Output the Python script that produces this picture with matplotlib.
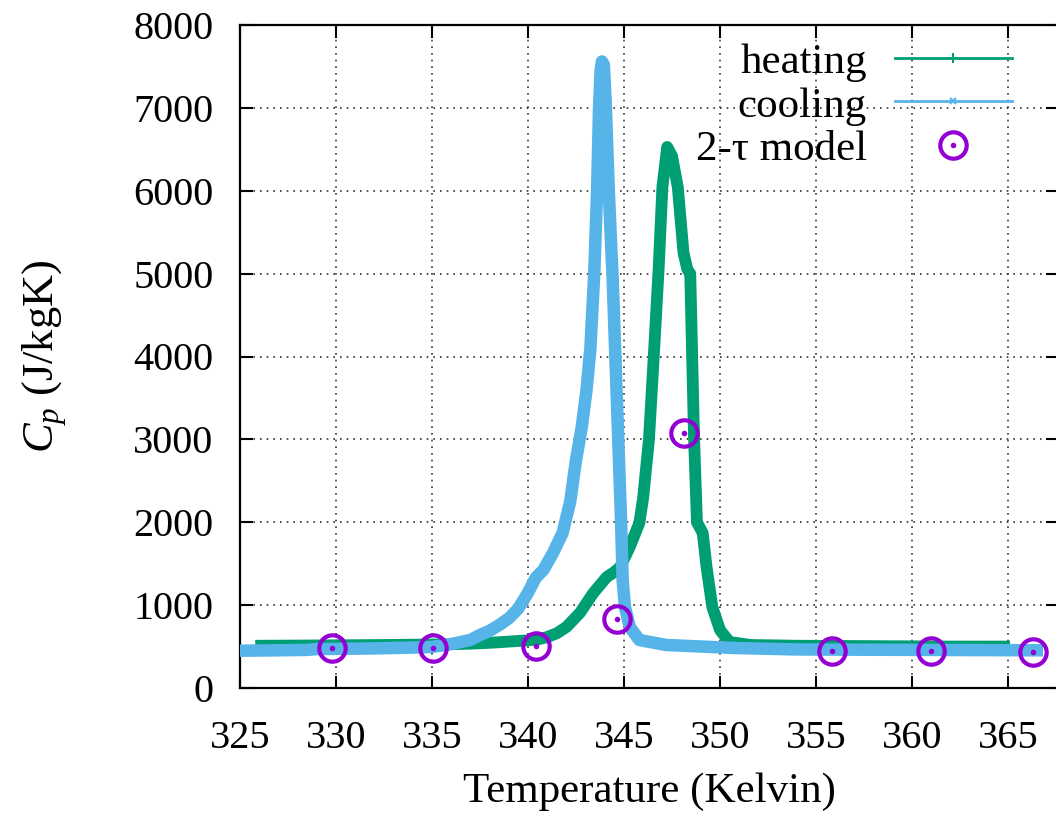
import matplotlib
matplotlib.use("Agg")
import matplotlib.pyplot as plt
from matplotlib.lines import Line2D
from matplotlib.legend_handler import HandlerTuple

# ---- data ----
T_heat = [326.1, 328, 330, 332, 334, 336, 337, 338, 339, 340, 340.5, 341, 341.5,
          342, 342.7, 343.4, 344.1, 344.5, 344.8, 345.3, 345.8, 346.0, 346.3, 346.55,
          346.8, 347.0, 347.25, 347.5, 347.8, 348.1, 348.3, 348.45, 348.55,
          348.65, 348.8, 349.1, 349.3, 349.6, 350.0, 350.5, 351.6, 354, 358,
          362, 364.8]
Cp_heat = [510, 512, 515, 518, 522, 528, 535, 545, 560, 575, 585, 615, 660,
           736, 905, 1146, 1339, 1400, 1460, 1701, 1991, 2300, 3000, 4000,
           5040, 6045, 6528, 6420, 6045, 5250, 5050, 5000, 4000,
           3000, 2000, 1870, 1460, 977, 700, 555, 519, 510, 505,
           500, 500]

T_cool = [325, 327, 328.5, 329, 330, 332, 334, 335, 336, 337, 337.5, 338,
          338.5, 339.0, 339.5, 340.0, 340.4, 340.8, 341.3, 341.8, 342.2, 342.5,
          342.8, 343.05, 343.25, 343.45, 343.6, 343.7, 343.78, 343.85, 343.95,
          344.05, 344.2, 344.3, 344.4, 344.55, 344.7, 344.85, 344.93, 345.05,
          345.3, 345.8, 347.2, 350.7, 354, 360, 366.5]
Cp_cool = [450, 455, 460, 470, 472, 478, 488, 495, 530, 580, 640, 690,
           760, 840, 960, 1150, 1330, 1424, 1629, 1870, 2250, 2750,
           3150, 3600, 4100, 5000, 6000, 7000, 7450, 7560, 7520,
           7050, 6050, 5500, 5000, 4000, 3000, 2000, 1300, 977,
           736, 579, 519, 483, 465, 460, 455]

T_model = [329.8, 335.07, 340.4, 344.65, 348.1, 355.83, 361.0, 366.3]
Cp_model = [479, 483, 507, 832, 3081, 450, 450, 438]

x_ticks = [325, 330, 335, 340, 345, 350, 355, 360, 365]
y_ticks = [0, 1000, 2000, 3000, 4000, 5000, 6000, 7000, 8000]

labels = ["heating", "cooling", "2-\u03c4 model"]

GREEN = "#009E73"
BLUE = "#56B4E9"
PURPLE = "#9400D3"

plt.rcParams["font.family"] = ["Liberation Serif", "DejaVu Serif"]
plt.rcParams["mathtext.fontset"] = "custom"
plt.rcParams["mathtext.rm"] = "Liberation Serif"
plt.rcParams["mathtext.it"] = "Liberation Serif:italic"

fig = plt.figure(figsize=(10.56, 8.24), dpi=100)
ax = fig.add_axes([240 / 1056, 136 / 824, 818 / 1056, 663 / 824])

ax.plot(T_heat, Cp_heat, color=GREEN, lw=8.5, solid_joinstyle="round", zorder=3)
ax.plot(T_cool, Cp_cool, color=BLUE, lw=9, solid_joinstyle="round", zorder=4)
ax.plot(T_model, Cp_model, linestyle="none", marker="o", ms=19, mfc="none",
        mec=PURPLE, mew=3, zorder=5)
ax.plot(T_model, Cp_model, linestyle="none", marker="o", ms=4, mfc=PURPLE,
        mec=PURPLE, mew=0, zorder=6)

ax.set_xlim(325, 325 + 818 / 19.2)
ax.set_ylim(0, 8000)
ax.set_xticks(x_ticks)
ax.set_yticks(y_ticks)
ax.grid(True, color="#333333", linestyle=(0, (1, 3)), linewidth=1.2)
ax.tick_params(direction="in", length=9, width=1.5, top=True, right=True,
               labelsize=29)
ax.tick_params(axis="x", pad=23)
ax.tick_params(axis="y", pad=19)
for s in ax.spines.values():
    s.set_linewidth(1.6)

ax.set_xlabel("Temperature (Kelvin)", fontsize=31, labelpad=11)
ax.set_ylabel("$C_p$ (J/kgK)", fontsize=32, labelpad=46)

h1 = Line2D([], [], color=GREEN, lw=2, marker="+", ms=7, mew=1.5)
h2 = Line2D([], [], color=BLUE, lw=2, marker="x", ms=5, mew=1.5)
h3a = Line2D([], [], linestyle="none", marker="o", ms=19, mfc="none",
             mec=PURPLE, mew=3)
h3b = Line2D([], [], linestyle="none", marker="o", ms=4, mfc=PURPLE,
             mec=PURPLE, mew=0)
ax.legend([h1, h2, (h3a, h3b)], labels, handler_map={tuple: HandlerTuple(ndivide=1)},
          loc="upper right", bbox_to_anchor=(0.970, 1.006), frameon=False,
          markerfirst=False, fontsize=31, handlelength=2.72, handletextpad=0.65,
          labelspacing=0.11, borderaxespad=0.2, borderpad=0.3)

fig.savefig("out.png", dpi=100)
